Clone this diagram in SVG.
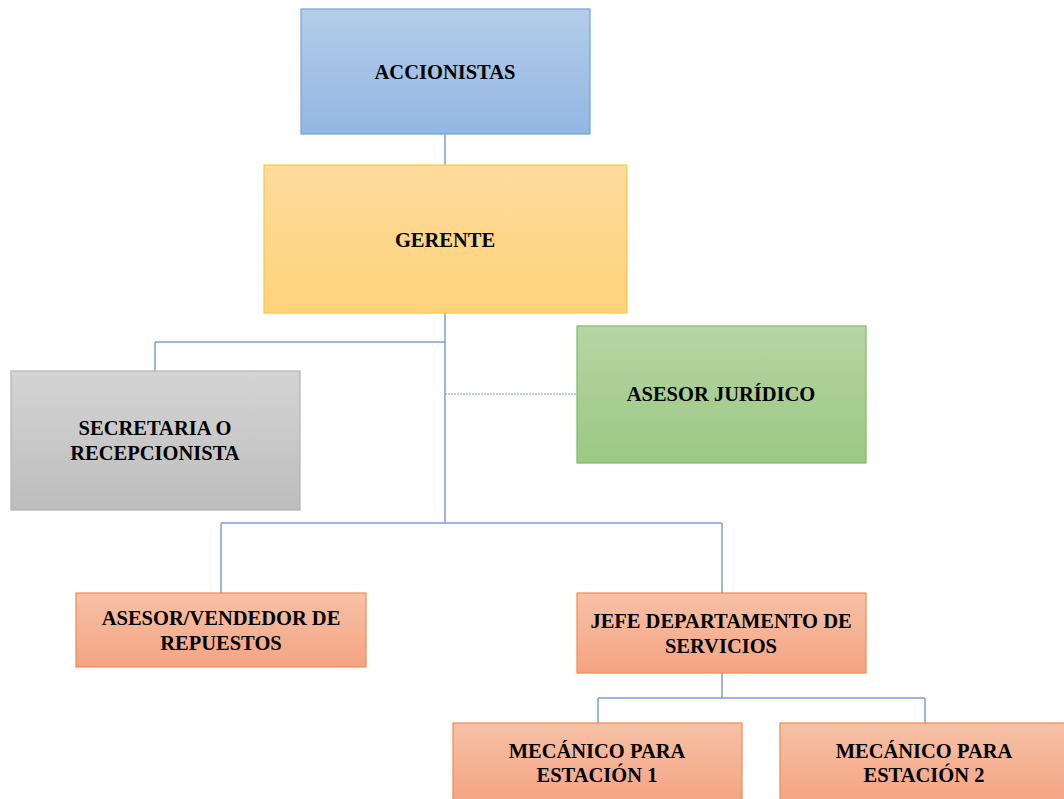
<svg xmlns="http://www.w3.org/2000/svg" width="1064" height="799" viewBox="0 0 1064 799">
<defs>
<linearGradient id="gBlue" x1="0" y1="0" x2="0" y2="1"><stop offset="0" stop-color="#b4cde9"/><stop offset="1" stop-color="#92b7e3"/></linearGradient>
<linearGradient id="gGold" x1="0" y1="0" x2="0" y2="1"><stop offset="0" stop-color="#fedb9c"/><stop offset="1" stop-color="#fed37a"/></linearGradient>
<linearGradient id="gGray" x1="0" y1="0" x2="0" y2="1"><stop offset="0" stop-color="#d4d4d4"/><stop offset="1" stop-color="#bdbdbd"/></linearGradient>
<linearGradient id="gGreen" x1="0" y1="0" x2="0" y2="1"><stop offset="0" stop-color="#b6d6a4"/><stop offset="1" stop-color="#9bc883"/></linearGradient>
<linearGradient id="gOrange" x1="0" y1="0" x2="0" y2="1"><stop offset="0" stop-color="#f7c1a6"/><stop offset="1" stop-color="#f4a483"/></linearGradient>
</defs>
<style>
text{font-family:"Liberation Serif","Times New Roman",serif;font-weight:bold;font-size:20.5px;fill:#000;text-anchor:middle}
.conn line{stroke:#7b9fdb;stroke-width:1.5;fill:none}
.conn .dot{stroke-dasharray:2 1;stroke-width:1.2}
.blue{fill:url(#gBlue);stroke:#72a1db;stroke-width:1.2}
.gold{fill:url(#gGold);stroke:#fcc940;stroke-width:1.2}
.gray{fill:url(#gGray);stroke:#b3b3b3;stroke-width:1.2}
.green{fill:url(#gGreen);stroke:#80b962;stroke-width:1.2}
.orange{fill:url(#gOrange);stroke:#f08c4f;stroke-width:1.2}
</style>
<g class="conn" id="connectors">
<line x1="445" y1="134" x2="445" y2="165"/>
<line x1="445" y1="313" x2="445" y2="523"/>
<line x1="155" y1="342" x2="445" y2="342"/>
<line x1="155" y1="342" x2="155" y2="371"/>
<line class="dot" x1="445" y1="394" x2="577" y2="394"/>
<line x1="221" y1="523" x2="722" y2="523"/>
<line x1="221" y1="523" x2="221" y2="593"/>
<line x1="722" y1="523" x2="722" y2="593"/>
<line x1="722" y1="673" x2="722" y2="698"/>
<line x1="598" y1="698" x2="925" y2="698"/>
<line x1="598" y1="698" x2="598" y2="723"/>
<line x1="925" y1="698" x2="925" y2="723"/>
</g>
<g id="accionistas"><rect class="blue" x="301" y="9" width="289" height="125"/><text x="445" y="79">ACCIONISTAS</text></g>
<g id="gerente"><rect class="gold" x="264" y="165" width="363" height="148"/><text x="445" y="247">GERENTE</text></g>
<g id="secretaria"><rect class="gray" x="11" y="371" width="289" height="139"/><text x="155" y="435">SECRETARIA O</text><text x="155" y="460">RECEPCIONISTA</text></g>
<g id="asesor-juridico"><rect class="green" x="577" y="326" width="289" height="137"/><text x="721" y="401">ASESOR JURÍDICO</text></g>
<g id="asesor-vendedor"><rect class="orange" x="76" y="593" width="290" height="74"/><text x="221" y="625">ASESOR/VENDEDOR DE</text><text x="221" y="650">REPUESTOS</text></g>
<g id="jefe"><rect class="orange" x="577" y="593" width="289" height="80"/><text x="721" y="628">JEFE DEPARTAMENTO DE</text><text x="721" y="653">SERVICIOS</text></g>
<g id="mecanico1"><rect class="orange" x="453" y="723" width="289" height="80"/><text x="597" y="758">MECÁNICO PARA</text><text x="597" y="782">ESTACIÓN 1</text></g>
<g id="mecanico2"><rect class="orange" x="780" y="723" width="289" height="80"/><text x="924" y="758">MECÁNICO PARA</text><text x="924" y="782">ESTACIÓN 2</text></g>
</svg>
